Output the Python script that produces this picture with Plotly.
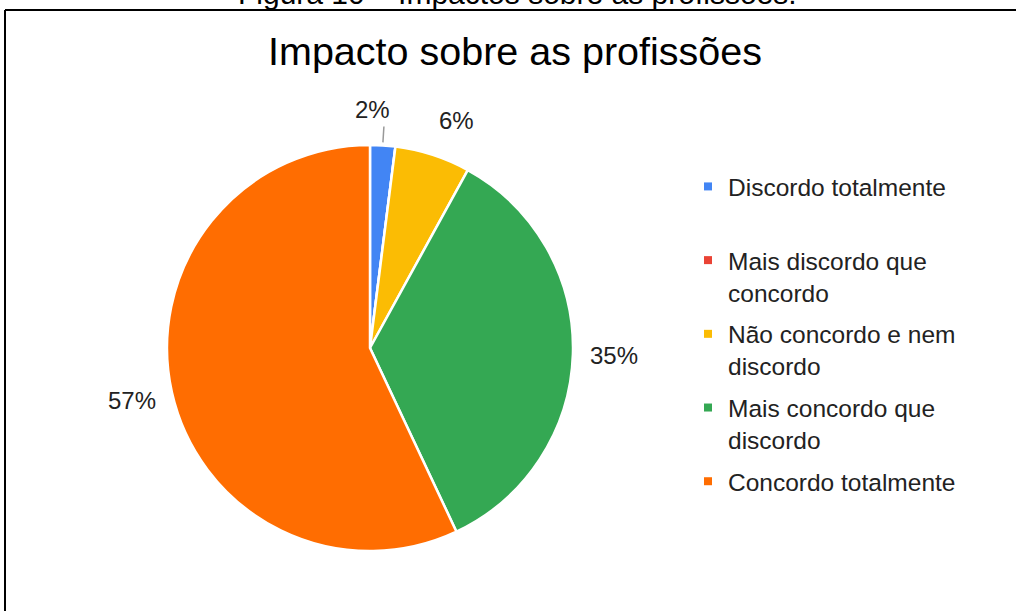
import math
import plotly.graph_objects as go

# ---------------- data ----------------
categories = [
    "Discordo totalmente",
    "Mais discordo que concordo",
    "Não concordo e nem discordo",
    "Mais concordo que discordo",
    "Concordo totalmente",
]
legend_labels = [
    "Discordo totalmente<br> ",
    "Mais discordo que<br>concordo",
    "Não concordo e nem<br>discordo",
    "Mais concordo que<br>discordo",
    "Concordo totalmente",
]
percent_values = [2, 0, 6, 35, 57]
slice_colors = ["#4285F4", "#EA4335", "#FBBC04", "#34A853", "#FF6D01"]
chart_title = "Impacto sobre as profissões"
caption_text = "Figura 10 – Impactos sobre as profissões."

# ---------------- geometry / style ----------------
W, H = 1016, 611
FONT = "Liberation Sans, Arial, sans-serif"
CX, CY, R = 370, 348, 203          # pie centre and radius in pixels
dom_x = [(CX - R) / W, (CX + R) / W]
dom_y = [(H - CY - R) / H, (H - CY + R) / H]


def px_to_paper(x, y):
    return x / W, 1 - y / H


fig = go.Figure()

fig.add_trace(go.Pie(
    labels=categories,
    values=percent_values,
    sort=False,
    direction="clockwise",
    rotation=0,
    marker=dict(colors=slice_colors, line=dict(color="white", width=2.5)),
    textinfo="none",
    hoverinfo="label+percent",
    showlegend=False,
    domain=dict(x=dom_x, y=dom_y),
))

# legend entries (one group per category so spacing can be controlled)
for cat, lab, col in zip(categories, legend_labels, slice_colors):
    fig.add_trace(go.Scatter(
        x=[None], y=[None], mode="markers", name=lab, legendgroup=cat,
        marker=dict(symbol="square", size=8, color=col),
        showlegend=True, hoverinfo="skip",
    ))

# percentage labels outside the pie, positioned from the data
LABEL_FS = 24
labels_pos = []
total = sum(percent_values)
cum = 0.0
for v in percent_values:
    start = cum
    cum += v
    if v <= 0:
        continue
    mid = (start + v / 2) / total * 2 * math.pi
    ux, uy = math.sin(mid), -math.cos(mid)
    txt = f"{v}%"
    w = 0.6 * LABEL_FS * len(txt) * 0.75
    h = LABEL_FS * 0.9
    d = R + 25
    lx = CX + d * ux + ux * w / 2
    ly = CY + d * uy + uy * h / 2
    labels_pos.append(dict(txt=txt, x=lx, y=ly, ux=ux, uy=uy, frac=v / total))

# push apart neighbouring labels that are too close
MIN_DX = 84
for a, b in zip(labels_pos, labels_pos[1:]):
    if abs(a["y"] - b["y"]) < 30 and abs(b["x"] - a["x"]) < MIN_DX:
        shift = (MIN_DX - abs(b["x"] - a["x"])) / 2
        a["x"] -= shift
        b["x"] += shift

annotations = []
shapes = []
for p in labels_pos:
    px, py = px_to_paper(p["x"], p["y"])
    annotations.append(dict(
        x=px, y=py, xref="paper", yref="paper", text=p["txt"], showarrow=False,
        xanchor="center", yanchor="middle",
        font=dict(family=FONT, size=LABEL_FS, color="#222222"),
    ))
    if p["frac"] < 0.03:
        ux, uy = p["ux"], p["uy"]
        x0, y0 = px_to_paper(CX + (R + 3) * ux, CY + (R + 3) * uy)
        x1, y1 = px_to_paper(CX + (R + 19) * ux, CY + (R + 19) * uy)
        shapes.append(dict(type="line", xref="paper", yref="paper",
                           x0=x0, y0=y0, x1=x1, y1=y1,
                           line=dict(color="#999999", width=1.5)))

# caption partly cut at the top of the picture
annotations.append(dict(
    x=517 / W, y=1 - 12 / H, xref="paper", yref="paper", text=caption_text,
    showarrow=False, xanchor="center", yanchor="bottom",
    font=dict(family=FONT, size=30, color="#000000"),
))

# frame lines (left and top)
bx, by = px_to_paper(5, 10)
shapes.append(dict(type="line", xref="paper", yref="paper", x0=bx, y0=by, x1=1.05, y1=by,
                   line=dict(color="#000000", width=2)))
shapes.append(dict(type="line", xref="paper", yref="paper", x0=bx, y0=-0.05, x1=bx, y1=by,
                   line=dict(color="#000000", width=2)))

fig.update_layout(
    width=W, height=H,
    margin=dict(l=0, r=0, t=0, b=0),
    paper_bgcolor="white", plot_bgcolor="white",
    title=dict(text=chart_title, x=515 / W, xanchor="center", xref="paper",
               y=1 - 51 / H, yanchor="middle", yref="container",
               font=dict(family=FONT, size=39.5, color="#000000")),
    xaxis=dict(visible=False), yaxis=dict(visible=False),
    legend=dict(x=688 / W, y=1 - 164 / H, xanchor="left", yanchor="top",
                font=dict(family=FONT, size=24.5, color="#222222"),
                bgcolor="rgba(0,0,0,0)", valign="top", itemwidth=30,
                tracegroupgap=7, traceorder="grouped"),
    annotations=annotations,
    shapes=shapes,
    showlegend=True,
)

fig.write_html("out.html")
